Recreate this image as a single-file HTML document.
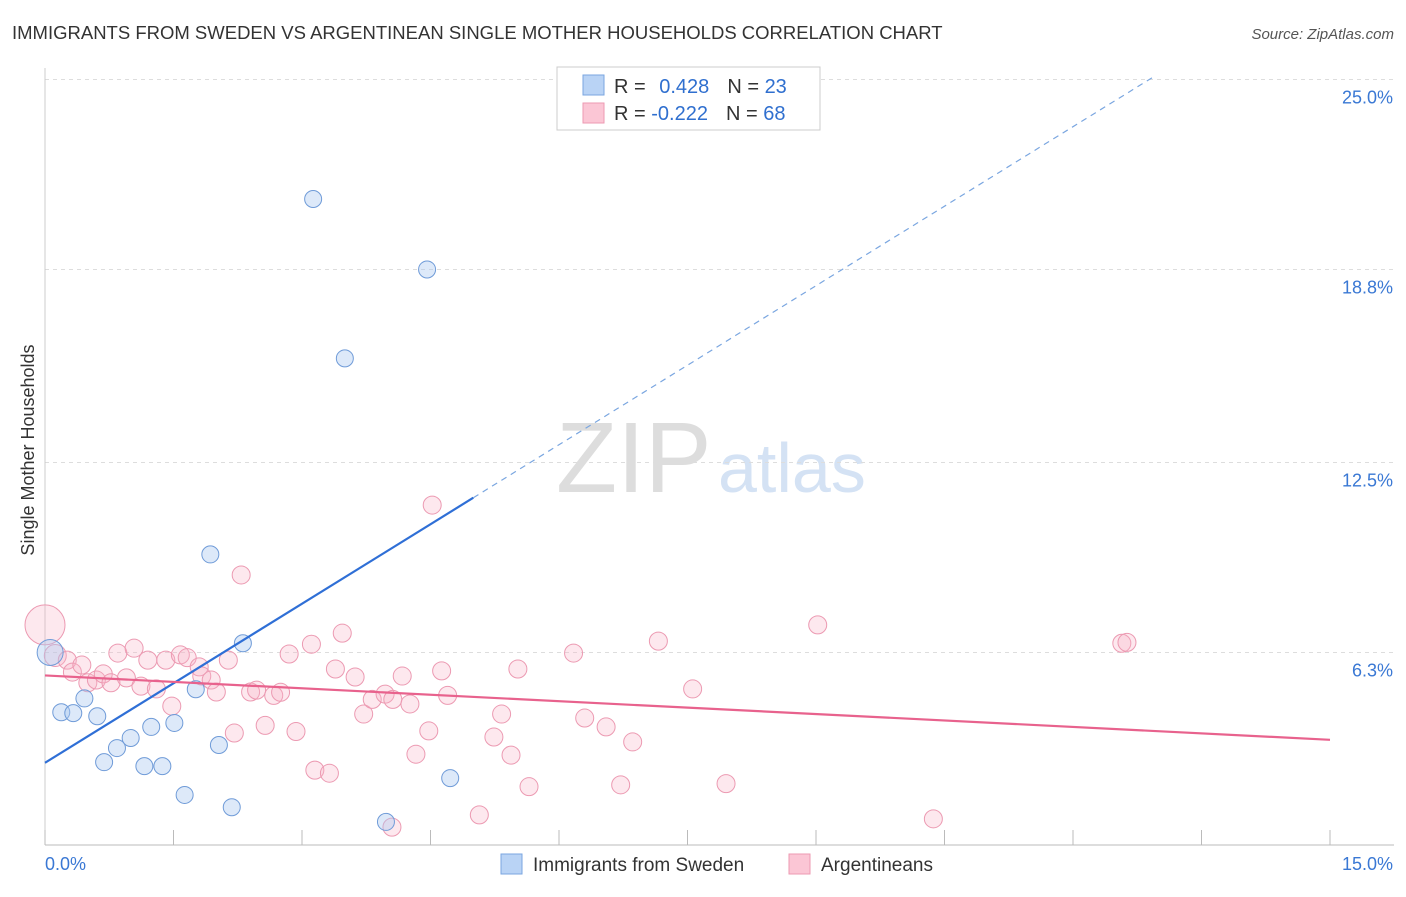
<!DOCTYPE html>
<html><head><meta charset="utf-8"><style>
body{margin:0;background:#fff;font-family:"Liberation Sans",sans-serif}
svg text{font-family:"Liberation Sans",sans-serif}
</style></head><body>
<svg id="c" width="1406" height="892">
<text x="12" y="39" font-size="18.5" fill="#333">IMMIGRANTS FROM SWEDEN VS ARGENTINEAN SINGLE MOTHER HOUSEHOLDS CORRELATION CHART</text>
<text x="1394" y="39" font-size="15" fill="#555" font-style="italic" text-anchor="end">Source: ZipAtlas.com</text>
<text x="40" y="456" font-size="18" fill="#333" text-anchor="middle" transform="rotate(-90 34 456)">Single Mother Households</text>
<text x="556" y="492" font-size="100" fill="#ddd" font-family="Liberation Serif">ZIP</text>
<text x="718" y="492" font-size="70" fill="#d4e2f4">atlas</text>
<g id="grid"></g><g id="pink"></g><g id="blue"></g><g id="lines"></g>
<rect x="557" y="67" width="263" height="63" fill="#fff" stroke="#ccc"/>
<rect x="583" y="75" width="21" height="20" fill="#b9d3f5" stroke="#7aa6e0"/>
<rect x="583" y="103" width="21" height="20" fill="#fbc6d5" stroke="#ec9ab2"/>
<text x="614" y="93" font-size="20" fill="#333">R = <tspan fill="#2f6fcf" dx="8">0.428</tspan><tspan dx="18" fill="#333">N = </tspan><tspan fill="#2f6fcf">23</tspan></text>
<text x="614" y="120" font-size="20" fill="#333">R = <tspan fill="#2f6fcf" dx="0">-0.222</tspan><tspan dx="18" fill="#333">N = </tspan><tspan fill="#2f6fcf">68</tspan></text>
<rect x="501" y="854" width="21" height="20" fill="#b9d3f5" stroke="#7aa6e0"/>
<text x="533" y="871" font-size="19" fill="#333">Immigrants from Sweden</text>
<rect x="789" y="854" width="21" height="20" fill="#fbc6d5" stroke="#ec9ab2"/>
<text x="821" y="871" font-size="19" fill="#333">Argentineans</text>
</svg>
<script>
const yTicks=[25.0,18.8,12.5,6.3];
const yTickLabels=["25.0%","18.8%","12.5%","6.3%"];
const xTicks=[0,1.5,3,4.5,6,7.5,9,10.5,12,13.5,15];
const blueX=[3.13,4.46,3.50,1.93,2.31,1.76,0.46,0.19,0.33,0.61,1.24,1.51,1.00,0.84,2.03,0.69,1.16,1.37,1.63,2.18,3.98,4.73,0.06];
const blueY=[21.1,18.8,15.9,9.5,6.6,5.1,4.8,4.35,4.32,4.22,3.87,4.0,3.51,3.18,3.28,2.72,2.59,2.59,1.65,1.25,0.77,2.2,6.3];
const pinkX=[0.0,0.12,0.26,0.32,0.43,0.5,0.6,0.68,0.77,0.85,0.95,1.04,1.12,1.2,1.3,1.41,1.48,1.58,1.66,1.8,1.83,1.94,2.0,2.14,2.21,2.29,2.4,2.47,2.57,2.67,2.75,2.85,2.93,3.11,3.15,3.32,3.39,3.47,3.62,3.72,3.82,3.97,4.06,4.17,4.26,4.33,4.48,4.52,4.63,4.7,5.07,5.24,5.33,5.44,5.52,5.65,6.17,6.3,6.55,6.72,6.86,7.16,7.56,7.95,9.02,10.37,12.57,12.63,4.05];
const pinkY=[7.2,6.2,6.05,5.66,5.89,5.31,5.4,5.6,5.31,6.28,5.47,6.44,5.2,6.05,5.11,6.05,4.55,6.22,6.13,5.83,5.53,5.4,5.01,6.05,3.67,8.83,5.01,5.07,3.92,4.9,5.0,6.25,3.72,6.57,2.46,2.36,5.76,6.93,5.5,4.29,4.77,4.94,4.77,5.53,4.62,2.98,3.74,11.11,5.7,4.9,1.0,3.54,4.29,2.95,5.76,1.92,6.28,4.16,3.87,1.98,3.38,6.67,5.11,2.02,7.2,0.87,6.6,6.63,0.6];
const pinkR=[20,11,9,9,9,9,9,9,9,9,9,9,9,9,9,9,9,9,9,9,9,9,9,9,9,9,9,9,9,9,9,9,9,9,9,9,9,9,9,9,9,9,9,9,9,9,9,9,9,9,9,9,9,9,9,9,9,9,9,9,9,9,9,9,9,9,9,9,9];
const blueTrend=[2.7,1.73], pinkTrend=[5.55,-0.14];
const NS="http://www.w3.org/2000/svg";
const X=v=>45+v/15*1285, Y=v=>845.5-v*30.64;
function mk(p,t,a){const e=document.createElementNS(NS,t);for(const k in a)e.setAttribute(k,a[k]);document.getElementById(p).appendChild(e);return e;}
yTicks.forEach((t,i)=>{
 const l=mk('grid','line',{x1:45,x2:1394,y1:Y(t),y2:Y(t),stroke:'#ddd','stroke-dasharray':'4 4'});
 
 
 const tx=mk('grid','text',{x:1393,y:Y(t)+24,'font-size':18,fill:'#3a78d4','text-anchor':'end'});
 tx.textContent=yTickLabels[i];
 
 
});
const ax=mk('grid','line',{x1:45,x2:1394,y1:845,y2:845,stroke:'#bbb'});


const ay=mk('grid','line',{x1:45,x2:45,y1:68,y2:845,stroke:'#ccc'});


xTicks.forEach(t=>{const l=mk('grid','line',{x1:X(t),x2:X(t),y1:830,y2:845,stroke:'#bbb'});
 
 });
const x0=mk('grid','text',{x:45,y:870,'font-size':18,fill:'#3a78d4'});x0.textContent='0.0%';


const x1=mk('grid','text',{x:1393,y:870,'font-size':18,fill:'#3a78d4','text-anchor':'end'});x1.textContent='15.0%';


pinkX.forEach((v,i)=>{const c=mk('pink','circle',{cx:X(v),cy:Y(pinkY[i]),r:pinkR[i]||9,fill:'rgba(249,180,200,0.3)',stroke:'#ec9ab2','stroke-width':1});
 
 });
blueX.forEach((v,i)=>{const c=mk('blue','circle',{cx:X(v),cy:Y(blueY[i]),r:i==22?13:8.5,fill:'rgba(170,200,240,0.4)',stroke:'#6f9bd8','stroke-width':1});
 
 });
const bl=mk('lines','line',{x1:X(0),y1:Y(blueTrend[0]),x2:X(5),y2:Y(blueTrend[0]+5*blueTrend[1]),stroke:'#2f6fd6','stroke-width':2.2});


const bd=mk('lines','line',{x1:X(5),y1:Y(blueTrend[0]+5*blueTrend[1]),x2:X(12.95),y2:Y(blueTrend[0]+12.95*blueTrend[1]),stroke:'#7aa6e0','stroke-width':1.2,'stroke-dasharray':'6 5'});


const pl=mk('lines','line',{x1:X(0),y1:Y(pinkTrend[0]),x2:X(15),y2:Y(pinkTrend[0]+15*pinkTrend[1]),stroke:'#e8628d','stroke-width':2.2});


</script>
</body></html>
